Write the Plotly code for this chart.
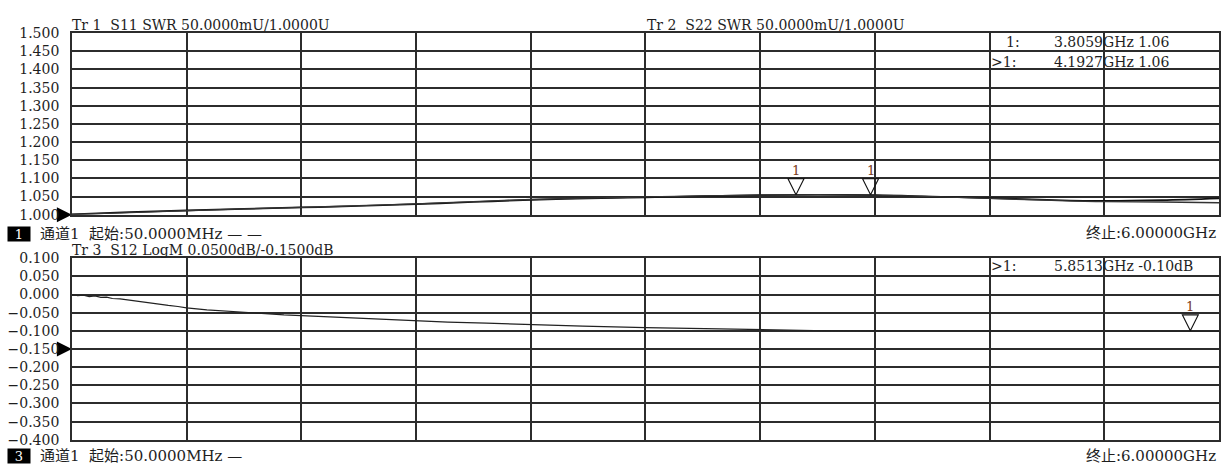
import plotly.graph_objects as go

W, H = 1221, 471

# ---------------- data ----------------
x_grid = [0.05, 0.645, 1.24, 1.835, 2.43, 3.025, 3.62, 4.215, 4.81, 5.405, 6.0]

freq_swr = [0.05, 0.3475, 0.645, 0.9425, 1.24, 1.5375, 1.835, 2.1325, 2.43, 2.7275, 3.025,
            3.3225, 3.62, 3.9175, 4.215, 4.5125, 4.81, 5.1075, 5.405, 5.7025, 6.0]
s11_swr = [1.001, 1.007, 1.012, 1.016, 1.020, 1.024, 1.029, 1.035, 1.041, 1.045, 1.048,
           1.051, 1.054, 1.055, 1.054, 1.050, 1.046, 1.041, 1.038, 1.040, 1.045]
s22_swr = [1.001, 1.006, 1.011, 1.016, 1.020, 1.025, 1.030, 1.036, 1.042, 1.046, 1.049,
           1.052, 1.054, 1.055, 1.054, 1.050, 1.045, 1.040, 1.036, 1.035, 1.033]

freq_s12 = [0.05, 0.08, 0.11, 0.14, 0.17, 0.20, 0.23, 0.26, 0.30, 0.35, 0.40, 0.45, 0.50,
            0.55, 0.60, 0.645, 0.75, 0.85, 0.95, 1.05, 1.15, 1.24, 1.40, 1.55, 1.70, 1.835,
            2.0, 2.2, 2.43, 2.7, 3.025, 3.3, 3.62, 3.9, 4.215, 4.5, 4.81, 5.1, 5.405, 5.6,
            5.85, 6.0]
s12_db = [0.000, -0.003, -0.002, -0.006, -0.004, -0.008, -0.007, -0.011, -0.012, -0.016,
          -0.019, -0.023, -0.026, -0.030, -0.033, -0.037, -0.042, -0.046, -0.050, -0.052,
          -0.056, -0.058, -0.062, -0.066, -0.070, -0.073, -0.076, -0.079, -0.083, -0.087,
          -0.091, -0.094, -0.097, -0.099, -0.100, -0.100, -0.101, -0.100, -0.101, -0.100,
          -0.100, -0.101]

swr_ticks = [1.0, 1.05, 1.1, 1.15, 1.2, 1.25, 1.3, 1.35, 1.4, 1.45, 1.5]
swr_ticktext = ["1.000", "1.050", "1.100", "1.150", "1.200", "1.250", "1.300", "1.350",
                "1.400", "1.450", "1.500"]
db_ticks = [0.1, 0.05, 0.0, -0.05, -0.1, -0.15, -0.2, -0.25, -0.3, -0.35, -0.4]
db_ticktext = ["0.100", "0.050", "0.000", "−0.050", "−0.100", "−0.150", "−0.200",
               "−0.250", "−0.300", "−0.350", "−0.400"]

swr_marker_freq = [3.8059, 4.1927]
swr_marker_val = [1.055, 1.055]
s12_marker_freq = [5.8513]
s12_marker_val = [-0.100]

swr_ref_level = [1.0]
s12_ref_level = [-0.15]

# ---------------- helpers ----------------
def px(xp):
    return xp / W

def py(yp):
    return 1 - yp / H

FONT = "DejaVu Serif, Noto Sans CJK SC"
TXT = "#1e1e1e"
GRID = "#2c2c2c"
SP = "\u00a0"

fig = go.Figure()

fig.add_trace(go.Scatter(x=freq_swr, y=s11_swr, mode="lines", line=dict(color="#111111", width=1.7, shape="spline"),
                         xaxis="x", yaxis="y", showlegend=False))
fig.add_trace(go.Scatter(x=freq_swr, y=s22_swr, mode="lines", line=dict(color="#333333", width=1.3, shape="spline"),
                         xaxis="x", yaxis="y", showlegend=False))
fig.add_trace(go.Scatter(x=freq_s12, y=s12_db, mode="lines", line=dict(color="#222222", width=1.2),
                         xaxis="x2", yaxis="y2", showlegend=False))

# marker triangles (tip on the trace)
fig.add_trace(go.Scatter(x=swr_marker_freq, y=swr_marker_val, mode="markers", cliponaxis=False,
                         marker=dict(symbol="arrow-down-open", size=16, color="#111111", line=dict(width=1.1, color="#111111")),
                         xaxis="x", yaxis="y", showlegend=False))
fig.add_trace(go.Scatter(x=s12_marker_freq, y=s12_marker_val, mode="markers", cliponaxis=False,
                         marker=dict(symbol="arrow-down-open", size=16, color="#111111", line=dict(width=1.1, color="#111111")),
                         xaxis="x2", yaxis="y2", showlegend=False))
# reference level arrows
fig.add_trace(go.Scatter(x=[x_grid[0]], y=swr_ref_level, mode="markers", cliponaxis=False,
                         marker=dict(symbol="arrow-right", size=15, color="black", line=dict(width=0)),
                         xaxis="x", yaxis="y", showlegend=False))
fig.add_trace(go.Scatter(x=[x_grid[0]], y=s12_ref_level, mode="markers", cliponaxis=False,
                         marker=dict(symbol="arrow-right", size=15, color="black", line=dict(width=0)),
                         xaxis="x2", yaxis="y2", showlegend=False))

ax_common = dict(showgrid=True, gridcolor=GRID, gridwidth=1.5, zeroline=False,
                 showline=True, linecolor=GRID, linewidth=1.5, mirror=True)

fig.update_layout(
    width=W, height=H,
    margin=dict(l=0, r=0, t=0, b=0),
    paper_bgcolor="white", plot_bgcolor="white",
    hovermode=False,
    xaxis=dict(domain=[px(72), 1.0], range=[0.05, 6.0], tickvals=x_grid, showticklabels=False,
               anchor="y", **ax_common),
    yaxis=dict(domain=[py(214), py(26)], range=[1.0, 1.5], tickvals=swr_ticks, ticktext=swr_ticktext,
               ticklabelstandoff=8, tickfont=dict(family=FONT, size=14, color=TXT), anchor="x", **ax_common),
    xaxis2=dict(domain=[px(72), 1.0], range=[0.05, 6.0], tickvals=x_grid, showticklabels=False,
                anchor="y2", **ax_common),
    yaxis2=dict(domain=[py(447), py(259)], range=[-0.4, 0.1], tickvals=db_ticks, ticktext=db_ticktext,
                ticklabelstandoff=8, tickfont=dict(family=FONT, size=14, color=TXT), anchor="x2", **ax_common),
)

ann = []

def text(x, y, s, anchor="left", size=14, color=TXT):
    ann.append(dict(xref="paper", yref="paper", x=px(x), y=py(y), text=s.replace(" ", SP), showarrow=False,
                    xanchor=anchor, yanchor="middle", font=dict(family=FONT, size=size, color=color)))

text(70, 18, "Tr 1  S11 SWR 50.0000mU/1.0000U")
text(646, 18, "Tr 2  S22 SWR 50.0000mU/1.0000U")
text(1006, 35, "1:")
text(1054, 35, "3.8059GHz 1.06")
text(991, 56, ">1:")
text(1054, 56, "4.1927GHz 1.06")
text(38, 234, "通道1  起始:50.0000MHz — —", size=15)
text(1220, 233, "终止:6.00000GHz", anchor="right", size=15)
text(70, 250, "Tr 3  S12 LogM 0.0500dB/-0.1500dB")
text(991, 267, ">1:")
text(1054, 267, "5.8513GHz -0.10dB")
text(38, 464, "通道1  起始:50.0000MHz —", size=15)
text(1220, 464, "终止:6.00000GHz", anchor="right", size=15)

for label, yc in (("1", 234), ("3", 464)):
    ann.append(dict(xref="paper", yref="paper", x=px(7), y=py(yc), text=label, showarrow=False,
                    xanchor="left", yanchor="middle", width=20, height=12, bgcolor="black",
                    font=dict(family=FONT, size=13, color="white"), borderpad=1))

for fx, fv in zip(swr_marker_freq, swr_marker_val):
    ann.append(dict(xref="x", yref="y", x=fx, y=fv, text="1", showarrow=False, yshift=24,
                    font=dict(family=FONT, size=13, color="#7a3a1a")))
for fx, fv in zip(s12_marker_freq, s12_marker_val):
    ann.append(dict(xref="x2", yref="y2", x=fx, y=fv, text="1", showarrow=False, yshift=24,
                    font=dict(family=FONT, size=13, color="#7a3a1a")))

fig.update_layout(annotations=ann)

fig.write_html("out.html", config={"displayModeBar": False},
               post_script="document.body.style.margin='0';document.body.style.overflow='hidden';")
